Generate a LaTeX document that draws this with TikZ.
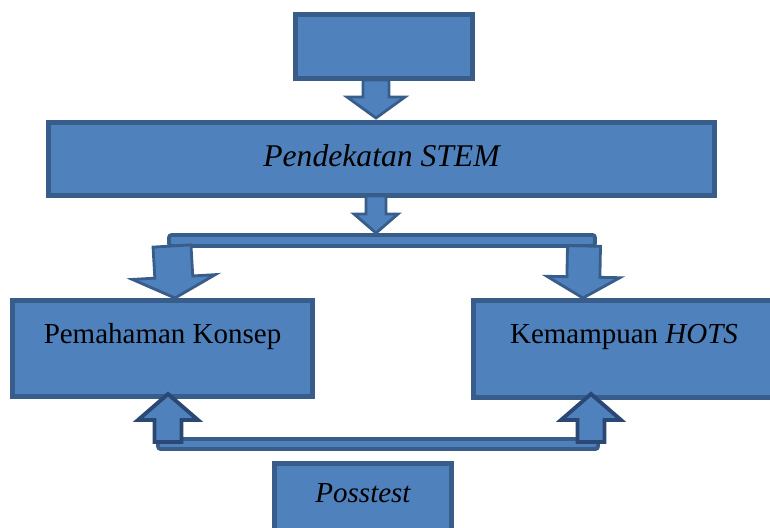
\documentclass[tikz,border=0pt]{standalone}
\usepackage{fontspec}
\setmainfont{Liberation Serif}
\usetikzlibrary{calc}

\definecolor{isi}{HTML}{4F81BD}
\definecolor{garis}{HTML}{385D8A}
\definecolor{garistua}{HTML}{2A4873}

\tikzset{
  kotak/.style={draw=garis, fill=isi, line width=2.8pt, inner sep=0pt},
  teks/.style={font=\fontsize{16.5}{20}\selectfont, inner sep=0pt, anchor=base},
  batang/.style={draw=garis, fill=isi, line width=2.2pt, rounded corners=1.5pt, inner sep=0pt},
  panah/.style={draw=garis, fill=isi, line width=1.6pt, line join=miter},
  panahatas/.style={panah, draw=garistua, line width=2.2pt}
}

% blok panah: [gaya]{pangkal}{ujung}{1/2 batang}{1/2 kepala}{panjang kepala}
\newcommand{\blockarrow}[6][panah]{%
  \path #2 coordinate (pA) #3 coordinate (pB);
  \path ($(pB)!#6!(pA)$) coordinate (pN);
  \filldraw[#1] ($(pA)!#4!90:(pB)$) -- ($(pN)!#4!90:(pB)$) -- ($(pN)!#5!90:(pB)$)
    -- (pB) -- ($(pN)!#5!-90:(pB)$) -- ($(pN)!#4!-90:(pB)$) -- ($(pA)!#4!-90:(pB)$) -- cycle;}

\begin{document}
\begin{tikzpicture}[x=0.02cm, y=-0.02cm]

\useasboundingbox (0,0) rectangle (770,527);
\clip (0,0) rectangle (770,527);

% ---------- Kotak ----------
\node[kotak, minimum width=3.54cm, minimum height=1.28cm] (atas) at (384,46.5) {};
\node[kotak, minimum width=13.32cm, minimum height=1.46cm] (stem) at (381.5,159) {};
\node[kotak, minimum width=6cm, minimum height=1.92cm] (konsep) at (162.5,348.5) {};
\node[kotak, minimum width=6.02cm, minimum height=1.94cm] (hots) at (624,349) {};
\node[kotak, minimum width=3.54cm, minimum height=1.53cm] (post) at (363,501.75) {};

% ---------- Teks ----------
\node[teks, font=\fontsize{18}{22}\selectfont] (stemteks) at (381.5,166) {\itshape Pendekatan STEM};
\node[teks] (konsepteks) at (162.5,343) {Pemahaman Konsep};
\node[teks] (hotsteks) at (624,343) {Kemampuan \textit{HOTS}};
\node[teks] (postteks) at (363,502) {\itshape Posstest};

% ---------- Batang pembagi ----------
\node[batang, minimum width=8.52cm, minimum height=0.22cm] (bagi) at (382,240.5) {};
\node[batang, minimum width=8.8cm, minimum height=0.2cm] (gabung) at (378,444) {};

% ---------- Panah ----------
\coordinate (p1a) at (376,80);  \coordinate (p1b) at (376,118);
\coordinate (p2a) at (376,196); \coordinate (p2b) at (376,233);
\coordinate (p3a) at (172,246); \coordinate (p3b) at (175,298);
\coordinate (p4a) at (584,246); \coordinate (p4b) at (583,298);
\coordinate (p5a) at (168,442); \coordinate (p5b) at (168,394);
\coordinate (p6a) at (591,442); \coordinate (p6b) at (591,394);

\blockarrow{(p1a)}{(p1b)}{0.26cm}{0.58cm}{0.42cm}
\blockarrow{(p2a)}{(p2b)}{0.2cm}{0.44cm}{0.38cm}
\blockarrow{(p3a)}{(p3b)}{0.38cm}{0.83cm}{0.42cm}
\blockarrow{(p4a)}{(p4b)}{0.33cm}{0.73cm}{0.42cm}
\blockarrow[panahatas]{(p5a)}{(p5b)}{0.27cm}{0.6cm}{0.52cm}
\blockarrow[panahatas]{(p6a)}{(p6b)}{0.27cm}{0.6cm}{0.52cm}

\end{tikzpicture}
\end{document}
